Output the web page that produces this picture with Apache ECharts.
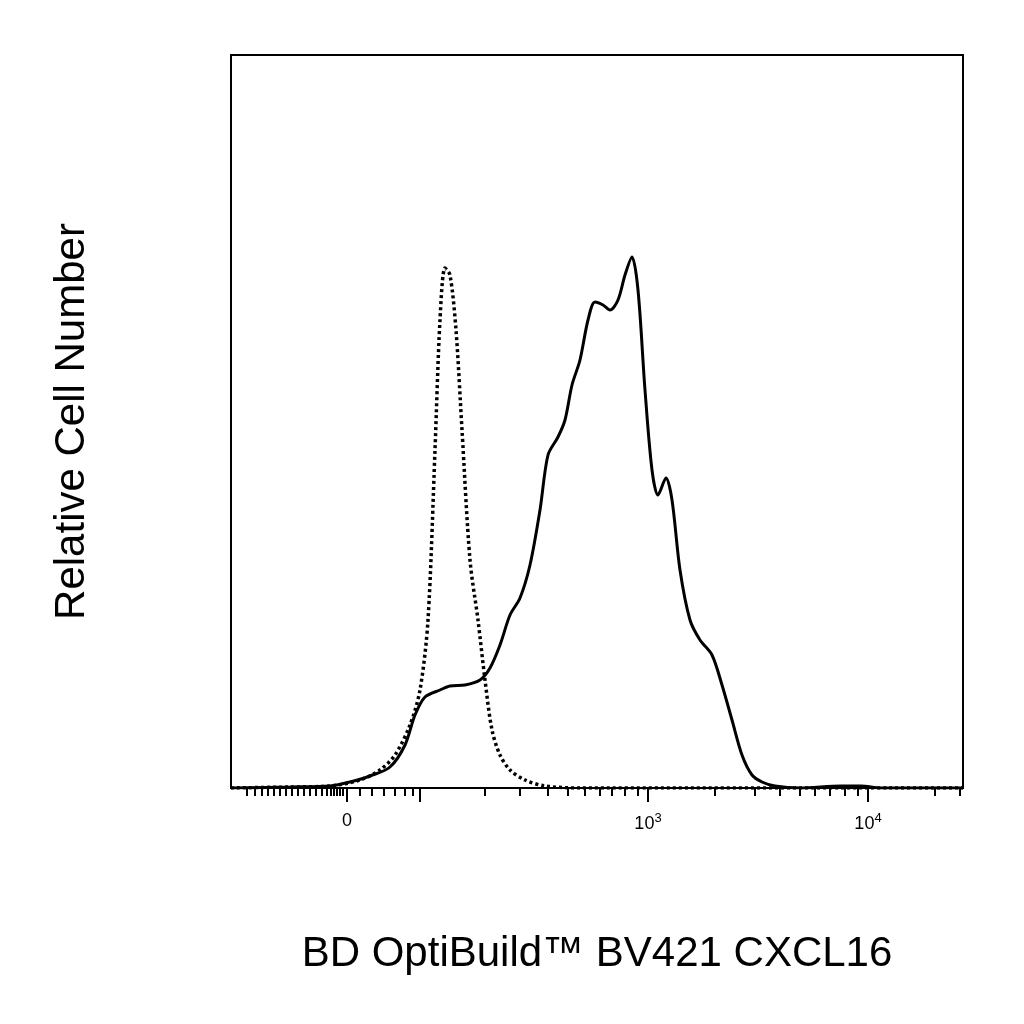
<!DOCTYPE html><html><head><meta charset="utf-8">
<script src="https://cdn.jsdelivr.net/npm/echarts@6/dist/echarts.min.js"></script>
<style>html,body{margin:0;background:#fff}#c{width:1024px;height:1024px}</style></head><body><div id="c"></div>
<script>
// x in display channel units (0..732), y in relative count units (0..733)
const solidX=[0,59,99,119,139,159,174,184,194,209,219,234,249,259,269,279,289,299,309,317,327,334,341,349,357,364,372,379,387,394,401,407,414,421,427,435,441,449,459,469,481,491,501,511,521,531,544,569,610,630,650,732];
const solidY=[0,1,2,6,12,21,43,73,91,98,102,103,108,120,143,173,190,223,278,333,351,368,403,428,468,486,483,478,488,513,531,498,398,318,293,310,288,218,168,148,133,103,68,33,13,6,2,0,2,2,0,0];
const dotX=[0,59,99,129,149,164,179,189,197,204,209,214,219,225,231,239,247,254,261,269,279,294,314,349,732];
const dotY=[0,1,2,8,18,33,63,98,168,338,468,520,513,458,358,228,168,108,58,33,18,8,2,0,0];
const minorTicks=[16,24,31,37,43,49,55,61,67,73,79,85,91,96,100,103,106,109,112,129,141,153,164,174,182,254,289,317,337,354,369,381,394,407,484,524,549,569,584,599,614,627,704,729];
const majorTicks=[116,189,417,637];
const labelTicks=[116,417,637];
const labelText=['0','10{s|3}','10{s|4}'];
const chart=echarts.init(document.getElementById('c'));
const base={type:'value',min:0,max:732,gridIndex:0,position:'bottom',offset:0,splitLine:{show:false}};
chart.setOption({
 animation:false,
 grid:{left:231,right:61,top:55,bottom:236,show:true,borderColor:'#000',borderWidth:2},
 xAxis:[
  Object.assign({},base,{axisLine:{show:true,lineStyle:{color:'#000',width:2}},
   axisTick:{show:true,inside:false,length:8,lineStyle:{color:'#000',width:2},customValues:minorTicks},
   axisLabel:{show:false},
   name:'BD OptiBuild™ BV421 CXCL16',nameLocation:'middle',nameGap:145,
   nameTextStyle:{fontFamily:'Liberation Sans',fontSize:42,color:'#000'}}),
  Object.assign({},base,{axisLine:{show:false},
   axisTick:{show:true,length:14,lineStyle:{color:'#000',width:2},customValues:majorTicks},
   axisLabel:{show:true,margin:24,customValues:labelTicks,fontFamily:'Liberation Sans',fontSize:18,color:'#000',
    formatter:v=>labelText[labelTicks.indexOf(Math.round(v))]||'',
    rich:{s:{fontSize:13,verticalAlign:'top',padding:[0,0,12,0],fontFamily:'Liberation Sans',color:'#000'}}}})
 ],
 yAxis:{type:'value',min:0,max:733,axisLine:{show:true,lineStyle:{color:'#000',width:2}},axisTick:{show:false},axisLabel:{show:false},splitLine:{show:false},
  name:'Relative Cell Number',nameLocation:'middle',nameGap:138,nameTextStyle:{fontFamily:'Liberation Sans',fontSize:42,color:'#000'}},
 series:[
  {type:'line',data:dotX.map((x,i)=>[x,dotY[i]]),smooth:0.3,showSymbol:false,lineStyle:{color:'#000',width:3.5,type:[3,3]}},
  {type:'line',data:solidX.map((x,i)=>[x,solidY[i]]),smooth:0.3,showSymbol:false,lineStyle:{color:'#000',width:3}}
 ]
});
</script></body></html>
